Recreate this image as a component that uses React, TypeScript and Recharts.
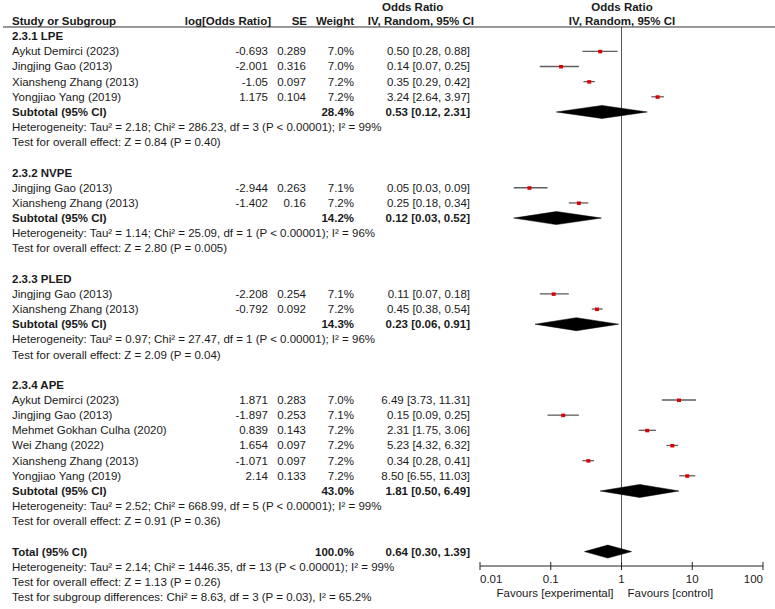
import React from "react";
import { ComposedChart, Scatter, XAxis, YAxis } from "recharts";

const FONT = '"Liberation Sans", Arial, sans-serif';
const INK = "#1a1a1a";

// name, log[OR], SE, weight %, OR, lower, upper
const lpeStudies = [
  { name: "Aykut Demirci (2023)", logOR: "-0.693", se: "0.289", weight: 7.0, or: 0.5, lo: 0.28, hi: 0.88 },
  { name: "Jingjing Gao (2013)", logOR: "-2.001", se: "0.316", weight: 7.0, or: 0.14, lo: 0.07, hi: 0.25 },
  { name: "Xiansheng Zhang (2013)", logOR: "-1.05", se: "0.097", weight: 7.2, or: 0.35, lo: 0.29, hi: 0.42 },
  { name: "Yongjiao Yang (2019)", logOR: "1.175", se: "0.104", weight: 7.2, or: 3.24, lo: 2.64, hi: 3.97 },
];
const nvpeStudies = [
  { name: "Jingjing Gao (2013)", logOR: "-2.944", se: "0.263", weight: 7.1, or: 0.05, lo: 0.03, hi: 0.09 },
  { name: "Xiansheng Zhang (2013)", logOR: "-1.402", se: "0.16", weight: 7.2, or: 0.25, lo: 0.18, hi: 0.34 },
];
const pledStudies = [
  { name: "Jingjing Gao (2013)", logOR: "-2.208", se: "0.254", weight: 7.1, or: 0.11, lo: 0.07, hi: 0.18 },
  { name: "Xiansheng Zhang (2013)", logOR: "-0.792", se: "0.092", weight: 7.2, or: 0.45, lo: 0.38, hi: 0.54 },
];
const apeStudies = [
  { name: "Aykut Demirci (2023)", logOR: "1.871", se: "0.283", weight: 7.0, or: 6.49, lo: 3.73, hi: 11.31 },
  { name: "Jingjing Gao (2013)", logOR: "-1.897", se: "0.253", weight: 7.1, or: 0.15, lo: 0.09, hi: 0.25 },
  { name: "Mehmet Gokhan Culha (2020)", logOR: "0.839", se: "0.143", weight: 7.2, or: 2.31, lo: 1.75, hi: 3.06 },
  { name: "Wei Zhang (2022)", logOR: "1.654", se: "0.097", weight: 7.2, or: 5.23, lo: 4.32, hi: 6.32 },
  { name: "Xiansheng Zhang (2013)", logOR: "-1.071", se: "0.097", weight: 7.2, or: 0.34, lo: 0.28, hi: 0.41 },
  { name: "Yongjiao Yang (2019)", logOR: "2.14", se: "0.133", weight: 7.2, or: 8.5, lo: 6.55, hi: 11.03 },
];

const subgroupTitles = ["2.3.1 LPE", "2.3.2 NVPE", "2.3.3 PLED", "2.3.4 APE"];
const subgroupStudies = [lpeStudies, nvpeStudies, pledStudies, apeStudies];
const subtotals = [
  { weight: 28.4, or: 0.53, lo: 0.12, hi: 2.31 },
  { weight: 14.2, or: 0.12, lo: 0.03, hi: 0.52 },
  { weight: 14.3, or: 0.23, lo: 0.06, hi: 0.91 },
  { weight: 43.0, or: 1.81, lo: 0.5, hi: 6.49 },
];
const heterogeneity = [
  "Heterogeneity: Tau² = 2.18; Chi² = 286.23, df = 3 (P < 0.00001); I² = 99%",
  "Heterogeneity: Tau² = 1.14; Chi² = 25.09, df = 1 (P < 0.00001); I² = 96%",
  "Heterogeneity: Tau² = 0.97; Chi² = 27.47, df = 1 (P < 0.00001); I² = 96%",
  "Heterogeneity: Tau² = 2.52; Chi² = 668.99, df = 5 (P < 0.00001); I² = 99%",
];
const overallEffect = [
  "Test for overall effect: Z = 0.84 (P = 0.40)",
  "Test for overall effect: Z = 2.80 (P = 0.005)",
  "Test for overall effect: Z = 2.09 (P = 0.04)",
  "Test for overall effect: Z = 0.91 (P = 0.36)",
];
const total = { weight: 100.0, or: 0.64, lo: 0.3, hi: 1.39 };
const totalNotes = [
  "Heterogeneity: Tau² = 2.14; Chi² = 1446.35, df = 13 (P < 0.00001); I² = 99%",
  "Test for overall effect: Z = 1.13 (P = 0.26)",
  "Test for subgroup differences: Chi² = 8.63, df = 3 (P = 0.03), I² = 65.2%",
];
const xTicks = [0.01, 0.1, 1, 10, 100];
const Y_DOMAIN = [0.396, 35.95];

// table rows, index 0 is the header
const rows: any[] = [{ kind: "header" }];
subgroupTitles.forEach((title, g) => {
  rows.push({ kind: "title", text: title });
  subgroupStudies[g].forEach((s) => rows.push({ kind: "study", ...s }));
  rows.push({ kind: "subtotal", label: "Subtotal (95% CI)", ...subtotals[g] });
  rows.push({ kind: "note", text: heterogeneity[g] });
  rows.push({ kind: "note", text: overallEffect[g] });
  rows.push({ kind: "blank" });
});
rows.push({ kind: "subtotal", label: "Total (95% CI)", ...total });
totalNotes.forEach((t) => rows.push({ kind: "note", text: t }));

const rowTicks = rows.map((_, i) => i);
const indexed = rows.map((r, i) => ({ r, i }));

const studyPoints = indexed
  .filter(({ r }) => r.kind === "study")
  .map(({ r, i }) => ({ x: r.or, y: i }));

// one two-point segment per confidence interval
const ciSegments = indexed
  .filter(({ r }) => r.kind === "study")
  .map(({ r, i }) => [
    { x: r.lo, y: i },
    { x: r.hi, y: i },
  ]);

const DIAMOND_H = 0.43;
const diamonds = indexed
  .filter(({ r }) => r.kind === "subtotal")
  .map(({ r, i }) => [
    { x: r.lo, y: i },
    { x: r.or, y: i - DIAMOND_H },
    { x: r.hi, y: i },
    { x: r.or, y: i + DIAMOND_H },
  ]);

const noEffectLine = [
  { x: 1, y: Y_DOMAIN[0] },
  { x: 1, y: Y_DOMAIN[1] },
];

const ci = (r: any) => `${r.or.toFixed(2)} [${r.lo.toFixed(2)}, ${r.hi.toFixed(2)}]`;

const COL = { name: 12, log: 268, se: 306, weight: 354, ci: 470 };

const txt = (x: number, y: number, s: string, anchor = "start", bold = false) => (
  <text x={x} y={y} textAnchor={anchor} fontSize={11.5} fontFamily={FONT} fill={INK} fontWeight={bold ? "bold" : "normal"}>
    {s}
  </text>
);

const RowTick = (props: any) => {
  const { y, payload } = props;
  const r = rows[payload.value];
  const b = y + 4;
  if (!r) return null;
  if (r.kind === "header") {
    return (
      <g>
        {txt(382, b - 14, "Odds Ratio", "start", true)}
        {txt(622, b - 14, "Odds Ratio", "middle", true)}
        {txt(COL.name, b, "Study or Subgroup", "start", true)}
        {txt(271, b, "log[Odds Ratio]", "end", true)}
        {txt(307, b, "SE", "end", true)}
        {txt(354, b, "Weight", "end", true)}
        {txt(474, b, "IV, Random, 95% CI", "end", true)}
        {txt(622, b, "IV, Random, 95% CI", "middle", true)}
        <line x1={3} x2={775} y1={y + 6} y2={y + 6} stroke="#333" strokeWidth={1} />
      </g>
    );
  }
  if (r.kind === "title") return txt(COL.name, b, r.text, "start", true);
  if (r.kind === "note") return txt(COL.name, b, r.text);
  if (r.kind === "study") {
    return (
      <g>
        {txt(COL.name, b, r.name)}
        {txt(COL.log, b, r.logOR, "end")}
        {txt(COL.se, b, r.se, "end")}
        {txt(COL.weight, b, `${r.weight.toFixed(1)}%`, "end")}
        {txt(COL.ci, b, ci(r), "end")}
      </g>
    );
  }
  if (r.kind === "subtotal") {
    return (
      <g>
        {txt(COL.name, b, r.label, "start", true)}
        {txt(COL.weight, b, `${r.weight.toFixed(1)}%`, "end", true)}
        {txt(COL.ci, b, ci(r), "end", true)}
      </g>
    );
  }
  return null;
};

const AxisTick = (props: any) => {
  const { x, y, payload, index } = props;
  const last = xTicks.length - 1;
  const anchor = index === 0 ? "start" : index === last ? "end" : "middle";
  return (
    <g>
      <line x1={x} x2={x} y1={y - 4} y2={y + 4} stroke="#222" strokeWidth={1} />
      {txt(x, y + 17, String(payload.value), anchor)}
      {payload.value === 1 && (
        <>
          {txt(x - 8, y + 31, "Favours [experimental]", "end")}
          {txt(x + 6, y + 31, "Favours [control]", "start")}
        </>
      )}
    </g>
  );
};

// filled diamond drawn from the scaled vertices of the scatter
const DiamondShape = (p: any) => {
  const pts = (p.points || []).map((q: any) => `${q.x},${q.y}`).join(" ");
  return <polygon points={pts} fill="#000" stroke="#000" strokeWidth={0.5} />;
};

const Segment = (stroke: string, width: number) => (p: any) => {
  const pts = p.points || [];
  if (pts.length < 2) return <g />;
  return <line x1={pts[0].x} y1={pts[0].y} x2={pts[1].x} y2={pts[1].y} stroke={stroke} strokeWidth={width} />;
};

const ciLine = Segment("#5e5e5e", 1.3);
const refLine = Segment("#555", 1);
const NoShape = () => <g />;
const Square = (p: any) => <rect x={p.cx - 2} y={p.cy - 1.5} width={4} height={3.5} fill="#dd0000" />;

export default function App() {
  return (
    <div style={{ position: "absolute", left: 0, top: 0, width: 775, height: 609, background: "#fff" }}>
      <ComposedChart width={775} height={609} margin={{ top: 27, right: 12, bottom: 0, left: 0 }}>
        <XAxis
          type="number"
          dataKey="x"
          scale="log"
          domain={[0.01, 100]}
          ticks={xTicks}
          allowDataOverflow
          interval={0}
          height={43}
          tickSize={0}
          tickMargin={0}
          tickLine={false}
          axisLine={{ stroke: "#222", strokeWidth: 1 }}
          tick={<AxisTick />}
        />
        <YAxis
          type="number"
          dataKey="y"
          domain={Y_DOMAIN}
          reversed
          allowDataOverflow
          ticks={rowTicks}
          interval={0}
          width={480}
          axisLine={false}
          tickLine={false}
          tick={<RowTick />}
        />
        <Scatter data={noEffectLine} shape={NoShape} line={refLine} isAnimationActive={false} />
        {ciSegments.map((d, i) => (
          <Scatter key={`ci-${i}`} data={d} shape={NoShape} line={ciLine} isAnimationActive={false} />
        ))}
        <Scatter data={studyPoints} shape={<Square />} isAnimationActive={false} />
        {diamonds.map((d, i) => (
          <Scatter key={`dm-${i}`} data={d} shape={NoShape} line={DiamondShape} isAnimationActive={false} />
        ))}
      </ComposedChart>
    </div>
  );
}
